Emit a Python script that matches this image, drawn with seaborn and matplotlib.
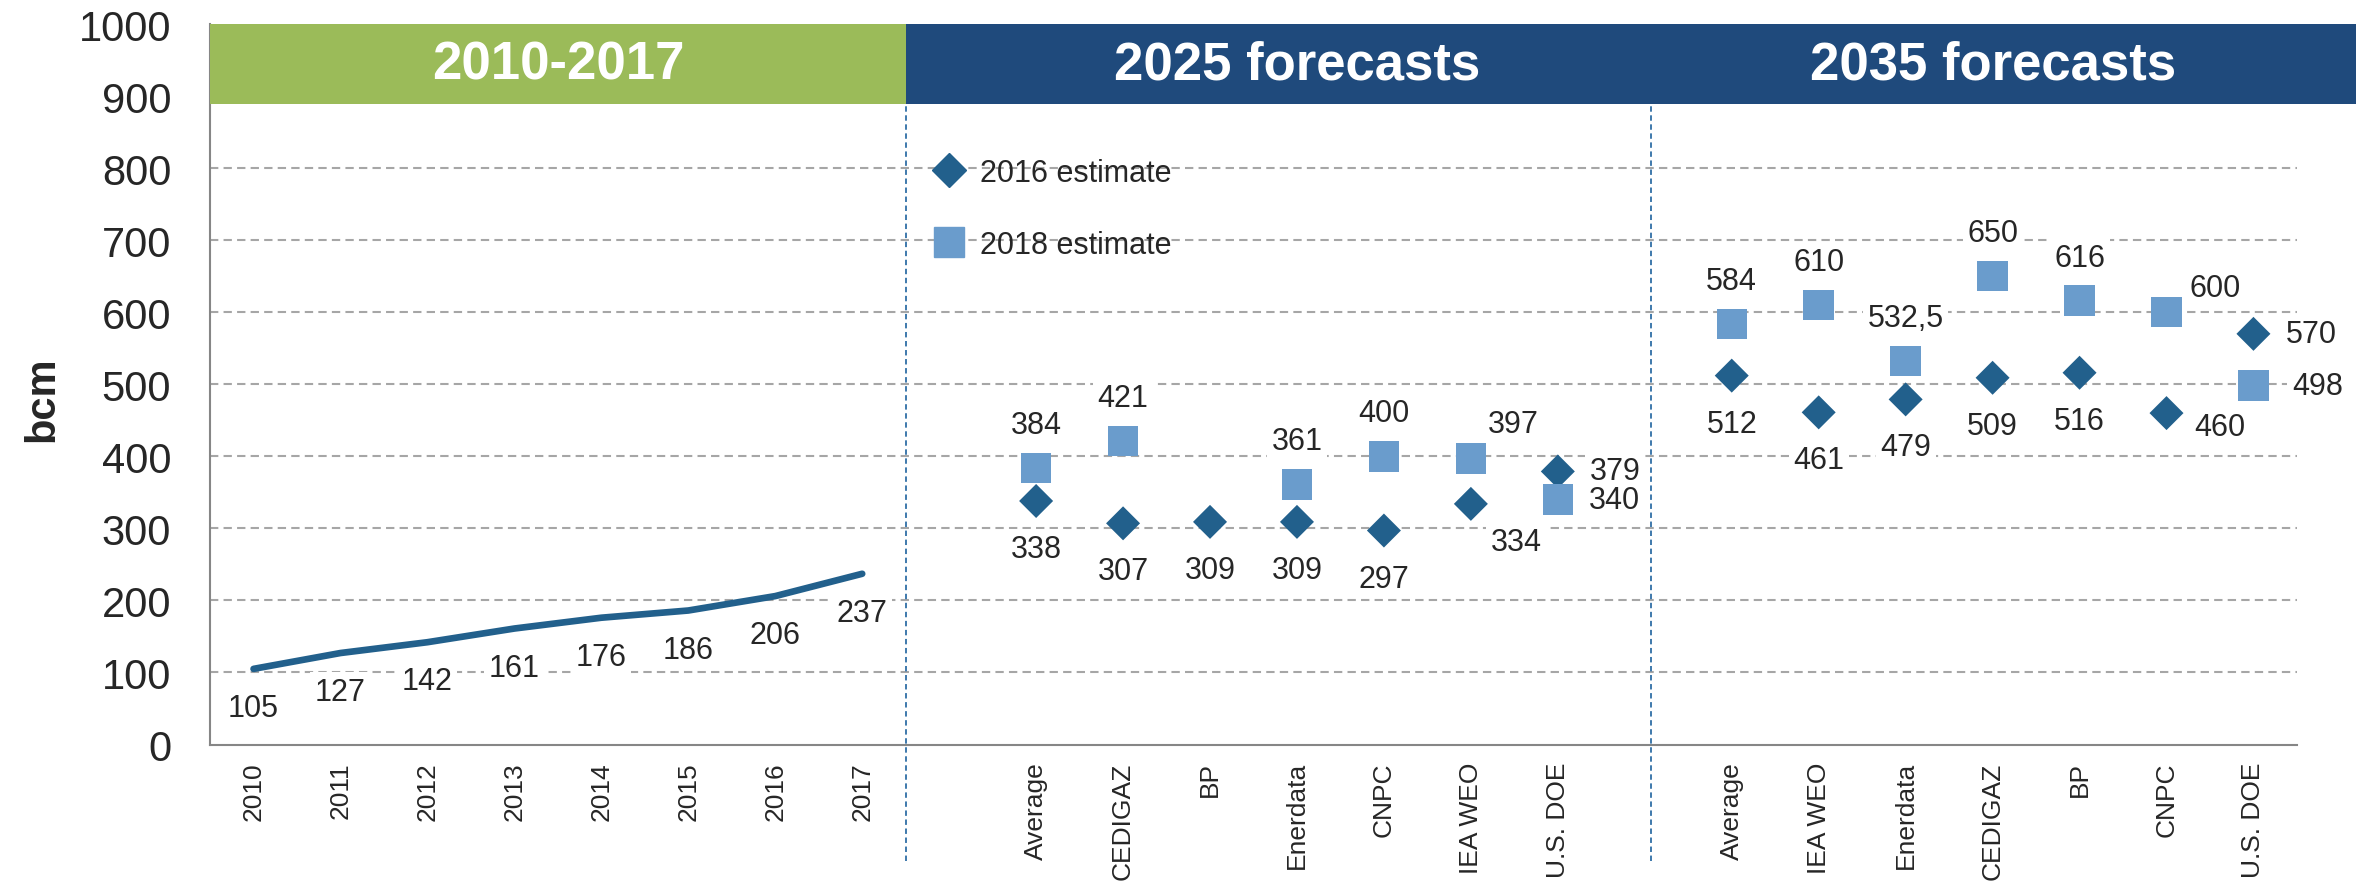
import numpy as np
import pandas as pd
import matplotlib
matplotlib.use("Agg")
import matplotlib.pyplot as plt
import seaborn as sns
from matplotlib.lines import Line2D
from matplotlib.patches import Rectangle

# data
years = ['2010', '2011', '2012', '2013', '2014', '2015', '2016', '2017']
production = [105, 127, 142, 161, 176, 186, 206, 237]

sources_2025 = ['Average', 'CEDIGAZ', 'BP', 'Enerdata', 'CNPC', 'IEA WEO', 'U.S. DOE']
est2016_2025 = [338, 307, 309, 309, 297, 334, 379]
est2018_2025 = [384, 421, np.nan, 361, 400, 397, 340]

sources_2035 = ['Average', 'IEA WEO', 'Enerdata', 'CEDIGAZ', 'BP', 'CNPC', 'U.S. DOE']
est2016_2035 = [512, 461, 479, 509, 516, 460, 570]
est2018_2035 = [584, 610, 532.5, 650, 616, 600, 498]

panel_titles = ['2010-2017', '2025 forecasts', '2035 forecasts']
series_names = ['2016 estimate', '2018 estimate']

# colours
DARK = '#22608C'
LIGHT = '#6A9CCC'
GREEN = '#9BBB59'
NAVY = '#1F4A7C'
DIVIDER = '#2F6EA6'
GRID = '#A6A6A6'
AXIS = '#868686'

# category slots: 8 years, blank, 7 sources, blank, 7 sources
x_years = np.arange(len(years))
x_2025 = np.arange(len(sources_2025)) + 9
x_2035 = np.arange(len(sources_2035)) + 17

hist = pd.DataFrame({'x': x_years, 'bcm': production})
parts = []
for grp, xs, v16, v18 in [('2025', x_2025, est2016_2025, est2018_2025),
                          ('2035', x_2035, est2016_2035, est2018_2035)]:
    parts.append(pd.DataFrame({'group': grp, 'slot': range(len(xs)), 'x': xs,
                               'bcm': v16, 'estimate': series_names[0]}))
    parts.append(pd.DataFrame({'group': grp, 'slot': range(len(xs)), 'x': xs,
                               'bcm': v18, 'estimate': series_names[1]}))
fc = pd.concat(parts, ignore_index=True).dropna()

sns.set_theme(style='white')
plt.rcParams['font.family'] = ['Liberation Sans', 'DejaVu Sans']

fig = plt.figure(figsize=(23.79, 8.87), dpi=100)
ax = fig.add_axes([0.0883, 0.1595, 0.8772, 0.8123])

for y in range(100, 900, 100):
    ax.axhline(y, color=GRID, lw=1.5, ls=(0, (4, 2.5)), zorder=1)

sns.lineplot(data=hist, x='x', y='bcm', color=DARK, lw=4.8, ax=ax, zorder=3,
             solid_capstyle='round')
sns.scatterplot(data=fc, x='x', y='bcm', hue='estimate', style='estimate', size='estimate',
                palette={series_names[0]: DARK, series_names[1]: LIGHT},
                markers={series_names[0]: 'D', series_names[1]: 's'},
                sizes={series_names[0]: 300, series_names[1]: 480},
                linewidth=0, legend=False, ax=ax, zorder=4)

label_kw = dict(fontsize=22, ha='center', va='center', textcoords='offset pixels', zorder=2,
                bbox=dict(boxstyle='square,pad=0.15', fc='white', ec='none'))

for x, v in zip(x_years, production):
    ax.annotate(str(v), (x, v), xytext=(0, -39), **label_kw)

# label offsets in pixels (default: diamonds below, squares above)
special = {
    ('2025', 5, series_names[0]): (45, -38),
    ('2025', 5, series_names[1]): (42, 34),
    ('2025', 6, series_names[0]): (57, 0),
    ('2025', 6, series_names[1]): (57, 0),
    ('2035', 5, series_names[0]): (53, -14),
    ('2035', 5, series_names[1]): (49, 24),
    ('2035', 6, series_names[0]): (58, 0),
    ('2035', 6, series_names[1]): (64, 0),
}
for _, r in fc.iterrows():
    default = (0, -48) if r['estimate'] == series_names[0] else (0, 43)
    off = special.get((r['group'], r['slot'], r['estimate']), default)
    txt = f"{r['bcm']:g}".replace('.', ',')
    ax.annotate(txt, (r['x'], r['bcm']), xytext=off, **label_kw)

# header bands
band_lo = 889
ax.add_patch(Rectangle((-0.5, band_lo), 8, 1000 - band_lo, color=GREEN, clip_on=False, zorder=5, lw=0))
ax.add_patch(Rectangle((7.5, band_lo), 24.18 - 7.5, 1000 - band_lo, color=NAVY, clip_on=False, zorder=5, lw=0))
for xc, t in zip([3.5, 12, 20], panel_titles):
    ax.text(xc, (band_lo + 1000) / 2, t, color='white', fontsize=38, fontweight='bold',
            ha='center', va='center', zorder=6)

# section dividers
for xd in [7.5, 16.07]:
    ax.plot([xd, xd], [-162, band_lo], color=DIVIDER, lw=1.3, ls=(0, (3, 2)),
            clip_on=False, zorder=2)

# legend
handles = [Line2D([], [], marker='D', ls='none', color=DARK, markersize=17.3),
           Line2D([], [], marker='s', ls='none', color=LIGHT, markersize=22)]
ax.legend(handles, series_names, loc='upper left', bbox_to_anchor=(0.347, 0.814),
          frameon=False, fontsize=22, labelspacing=1.36, handlelength=1.0,
          handletextpad=0.5, borderpad=0, borderaxespad=0)

ax.set_xlim(-0.5, 23.5)
ax.set_ylim(0, 1000)
ax.set_yticks(range(0, 1001, 100))
ax.set_xticks(list(x_years) + list(x_2025) + list(x_2035))
ax.set_xticklabels(years + sources_2025 + sources_2035, rotation=90, fontsize=19)
ax.tick_params(axis='x', length=0, pad=12)
ax.tick_params(axis='y', labelsize=30, length=8, width=1.5, color=AXIS, pad=20, direction='out')
ax.set_xlabel('')
ax.set_ylabel('bcm', fontsize=30, fontweight='bold')
ax.yaxis.set_label_coords(-0.071, 0.48)

for s in ['top', 'right']:
    ax.spines[s].set_visible(False)
for s in ['left', 'bottom']:
    ax.spines[s].set_color(AXIS)
    ax.spines[s].set_linewidth(1.5)

fig.savefig('out.png', dpi=100)
